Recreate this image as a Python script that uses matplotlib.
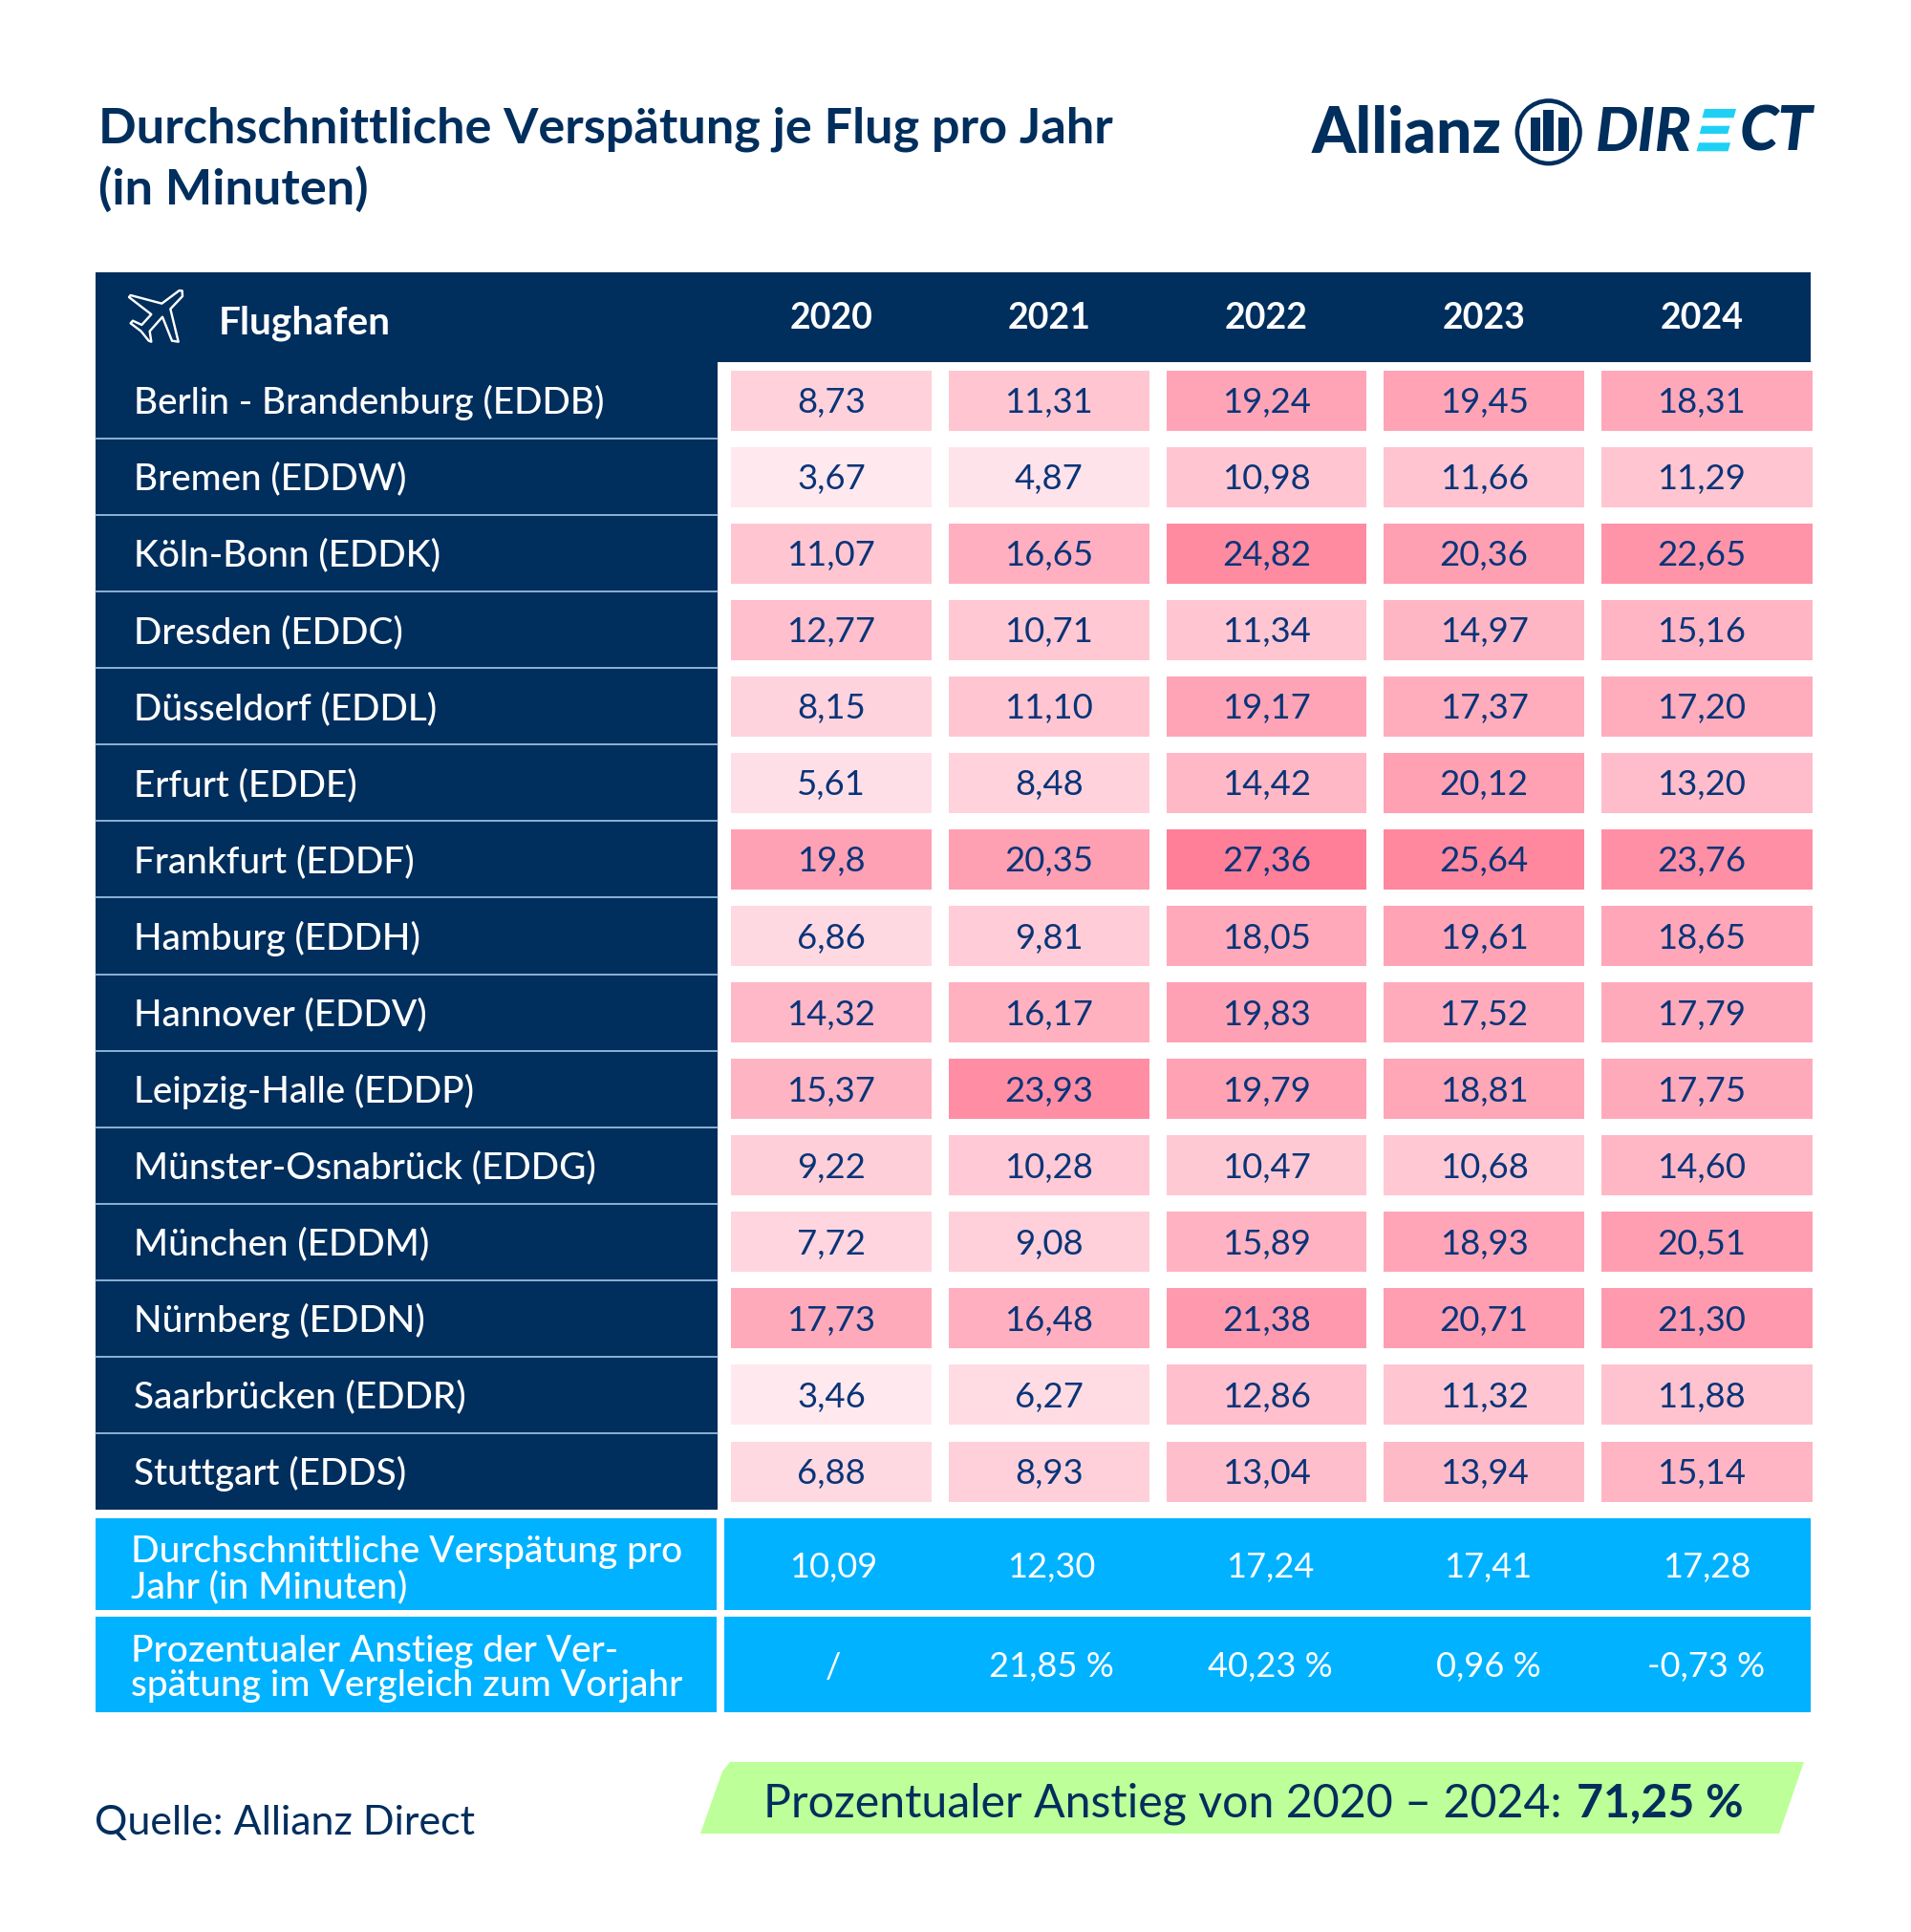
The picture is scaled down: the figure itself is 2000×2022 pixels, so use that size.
import matplotlib
matplotlib.use("Agg")
import matplotlib.pyplot as plt
from matplotlib.patches import Rectangle, Polygon, Circle
from matplotlib.colors import LinearSegmentedColormap, Normalize

plt.rcParams['font.family'] = ['Lato', 'DejaVu Sans']

airports = ["Berlin - Brandenburg (EDDB)", "Bremen (EDDW)", "Köln-Bonn (EDDK)", "Dresden (EDDC)",
            "Düsseldorf (EDDL)", "Erfurt (EDDE)", "Frankfurt (EDDF)", "Hamburg (EDDH)", "Hannover (EDDV)",
            "Leipzig-Halle (EDDP)", "Münster-Osnabrück (EDDG)", "München (EDDM)", "Nürnberg (EDDN)",
            "Saarbrücken (EDDR)", "Stuttgart (EDDS)"]
years = ["2020", "2021", "2022", "2023", "2024"]
v2020 = [8.73, 3.67, 11.07, 12.77, 8.15, 5.61, 19.8, 6.86, 14.32, 15.37, 9.22, 7.72, 17.73, 3.46, 6.88]
v2021 = [11.31, 4.87, 16.65, 10.71, 11.10, 8.48, 20.35, 9.81, 16.17, 23.93, 10.28, 9.08, 16.48, 6.27, 8.93]
v2022 = [19.24, 10.98, 24.82, 11.34, 19.17, 14.42, 27.36, 18.05, 19.83, 19.79, 10.47, 15.89, 21.38, 12.86, 13.04]
v2023 = [19.45, 11.66, 20.36, 14.97, 17.37, 20.12, 25.64, 19.61, 17.52, 18.81, 10.68, 18.93, 20.71, 11.32, 13.94]
v2024 = [18.31, 11.29, 22.65, 15.16, 17.20, 13.20, 23.76, 18.65, 17.79, 17.75, 14.60, 20.51, 21.30, 11.88, 15.14]
columns = [v2020, v2021, v2022, v2023, v2024]
labels_2020 = ["8,73", "3,67", "11,07", "12,77", "8,15", "5,61", "19,8", "6,86", "14,32", "15,37", "9,22", "7,72", "17,73", "3,46", "6,88"]
avg_labels = ["10,09", "12,30", "17,24", "17,41", "17,28"]
pct_labels = ["/", "21,85 %", "40,23 %", "0,96 %", "-0,73 %"]
avg_title = "Durchschnittliche Verspätung pro\nJahr (in Minuten)"
pct_title = "Prozentualer Anstieg der Ver-\nspätung im Vergleich zum Vorjahr"

NAVY = "#002E5D"
INK = "#0A3478"
BLUE = "#00B2FF"
GREEN = "#BDFF98"
CYAN = "#1FD0F5"
LINE = "#A9CFEF"

W, H = 2000, 2022
fig = plt.figure(figsize=(W / 100, H / 100), dpi=100, facecolor="white")
ax = fig.add_axes([0, 0, 1, 1])
ax.set_xlim(0, W)
ax.set_ylim(H, 0)
ax.axis("off")

def rect(x0, y0, x1, y1, c, z=1):
    ax.add_patch(Rectangle((x0, y0), x1 - x0, y1 - y0, fc=c, ec="none", zorder=z))

px = lambda p: p * 0.72

# Title
ax.text(103, 135, "Durchschnittliche Verspätung je Flug pro Jahr", fontsize=px(52.3), fontweight="bold", color=NAVY, va="center", ha="left")
ax.text(103, 198, "(in Minuten)", fontsize=px(52.3), fontweight="bold", color=NAVY, va="center", ha="left")

# Logo
ax.text(1373, 140, "Allianz", fontsize=px(66), fontweight="black", color=NAVY, va="center", ha="left")
ax.add_patch(Circle((1620.7, 138.3), 32.8, fc="white", ec=NAVY, lw=px(4.6), zorder=3))
rect(1602, 123, 1612, 158, NAVY, 4)
rect(1615, 115, 1626, 158, NAVY, 4)
rect(1631, 123, 1642, 158, NAVY, 4)
ax.text(1670, 139, "DIR", fontsize=px(63), fontweight="black", style="italic", color=NAVY, va="center", ha="left")
ax.text(1897, 139, "CT", fontsize=px(65), fontweight="black", style="italic", color=NAVY, va="center", ha="right")
for x0, x1, y0, y1 in [(1784, 1817, 114, 123.3), (1781, 1810.5, 131.7, 140), (1778, 1811, 149.3, 158.3)]:
    ax.add_patch(Polygon([(x0 - 2.5 * (y1 - y0) / 9, y1), (x0, y0), (x1, y0), (x1 - 2.5 * (y1 - y0) / 9, y1)], closed=True, fc=CYAN, ec="none"))

# Table header and row labels
TOP = 379
ROW = 80.07
rect(100, 285, 1895, TOP, NAVY)
rect(100, TOP, 750.5, TOP + 15 * ROW, NAVY)
ax.text(229, 338, "Flughafen", fontsize=px(40.6), fontweight="bold", color="white", va="center", ha="left")
plane_outline = [(197, 28), (188, 27), (133, 68), (35, 42), (30, 48), (100, 102), (70, 135), (42, 122), (35, 130),
                 (68, 155), (92, 185), (100, 188), (95, 155), (135, 110), (165, 185), (185, 188), (160, 85), (198, 45)]
plane = [(125 + a / 3, 295 + b / 3) for a, b in plane_outline]
ax.add_patch(Polygon(plane, closed=True, fc="none", ec="white", lw=px(2.4), joinstyle="round", zorder=3))

XV = [870 + 227.7 * j for j in range(5)]
for j, y in enumerate(years):
    ax.text(XV[j], 333, y, fontsize=px(37.5), fontweight="bold", color="white", va="center", ha="center")

cmap = LinearSegmentedColormap.from_list("delay", [(0.0, "#FFE9EF"), (0.318, "#FFC6D2"), (0.671, "#FFA3B5"), (1.0, "#FF7F98")])
norm = Normalize(3.46, 27.36)
cell_x = [(765, 975), (993, 1203), (1221, 1430), (1448, 1658), (1676, 1897)]
for i, name in enumerate(airports):
    yc = TOP + ROW * (i + 0.5)
    ax.text(140, yc + 2.5, name, fontsize=px(38.7), color="white", fontweight="medium", va="center", ha="left")
    if i:
        ax.plot([100, 750.5], [TOP + ROW * i] * 2, color=LINE, lw=px(1.6), zorder=2)
    for j, col in enumerate(columns):
        x0, x1 = cell_x[j]
        rect(x0, yc - 31.5, x1, yc + 31.5, cmap(norm(col[i])))
        label = labels_2020[i] if j == 0 else f"{col[i]:.2f}".replace(".", ",")
        ax.text(XV[j], yc + 2.5, label, fontsize=px(36.5), color=INK, va="center", ha="center")

# Summary rows
for (y0, y1, title, labs, ty) in [(1589, 1685, avg_title, avg_labels, (1624.5, 1661.5)), (1692, 1792, pct_title, pct_labels, (1728.5, 1764.5))]:
    rect(100, y0, 750, y1, BLUE)
    rect(758, y0, 1895, y1, BLUE)
    for line, yy in zip(title.split("\n"), ty):
        ax.text(137, yy, line, fontsize=px(38.9), color="white", fontweight="medium", va="center", ha="left")
    for j, l in enumerate(labs):
        ax.text(872 + 228.5 * j, (y0 + y1) / 2 + 3, l, fontsize=px(36.3), color="white", va="center", ha="center")

# Footer
ax.text(99, 1907.5, "Quelle: Allianz Direct", fontsize=px(43), color=NAVY, va="center", ha="left")
ax.add_patch(Polygon([(733, 1919), (756, 1854), (764, 1844), (1888, 1844), (1862, 1919)], closed=True, fc=GREEN, ec="none"))
ax.text(799, 1887.5, "Prozentualer Anstieg von 2020 – 2024:", fontsize=px(48.3), color=NAVY, va="center", ha="left")
ax.text(1650, 1887.5, "71,25 %", fontsize=px(48.3), fontweight="bold", color=NAVY, va="center", ha="left")

fig.savefig("out.png", dpi=100, facecolor="white")
